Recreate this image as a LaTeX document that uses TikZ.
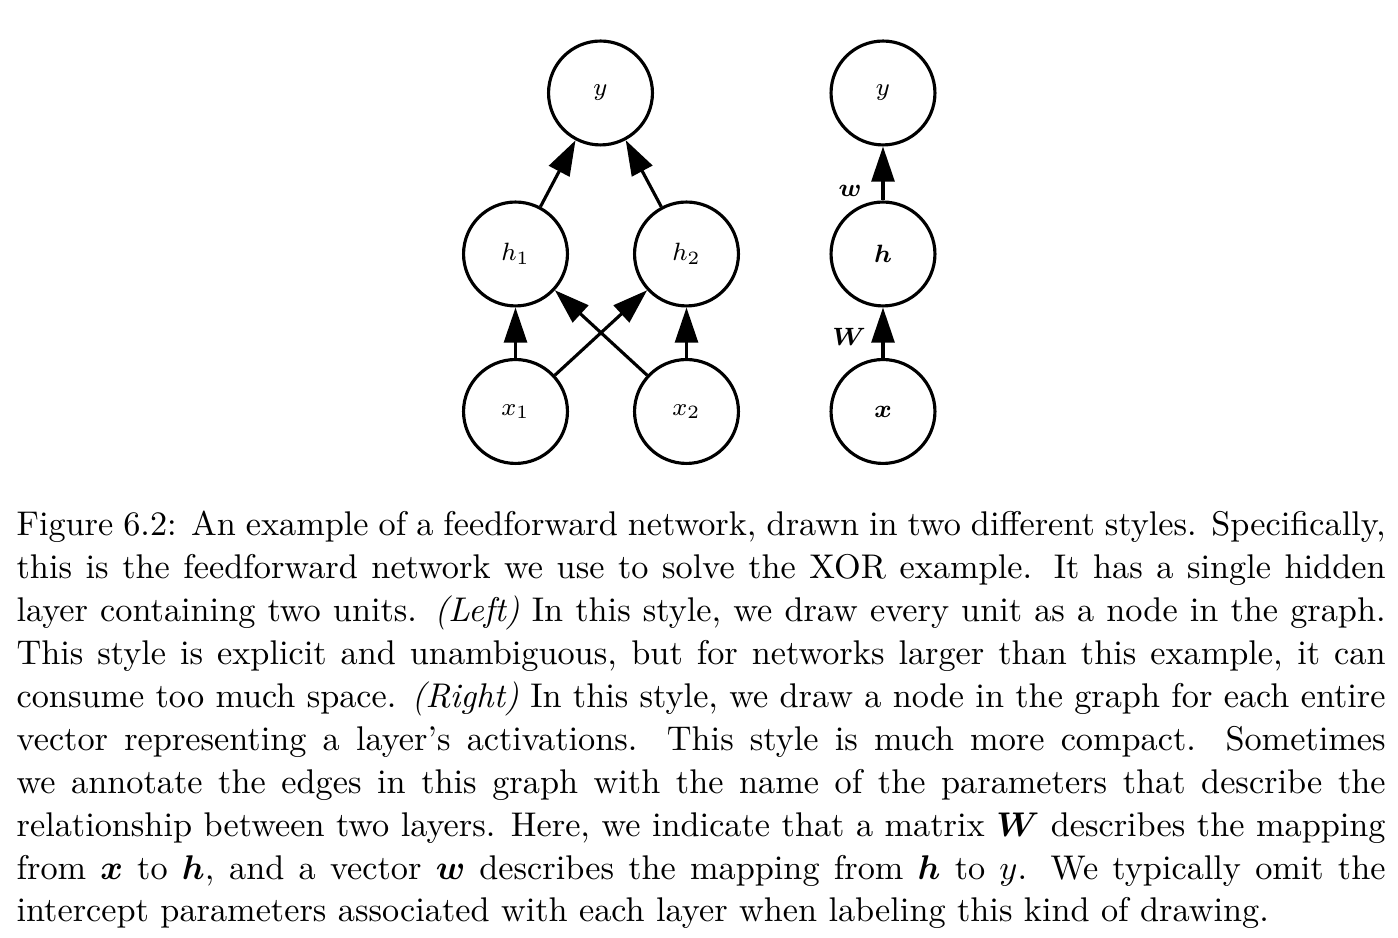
\documentclass[tikz,border=0pt]{standalone}
\usepackage{bm}
\usetikzlibrary{arrows.meta}
\tikzset{
  unit/.style={circle, draw=black, line width=1pt, minimum size=33.2pt, inner sep=0pt,
    font=\fontsize{8.3}{9.5}\selectfont},
  conn/.style={line width=1pt, -{Triangle[length=11.2pt,width=7.3pt]}},
  elabel/.style={inner sep=0pt, font=\fontsize{8.3}{9.5}\selectfont}
}
\begin{document}
\begin{tikzpicture}[x=0.3195pt,y=-0.3195pt]
\useasboundingbox (0,0) rectangle (1398,938);
% left network
\node[unit] (y)  at (600.5,93)  {$y$};
\node[unit] (h1) at (515.5,254) {$h_1$};
\node[unit] (h2) at (686.5,254) {$h_2$};
\node[unit] (x1) at (515.5,411.5) {$x_1$};
\node[unit] (x2) at (686.5,411.5) {$x_2$};
\draw[conn] (h1) -- (y);
\draw[conn] (h2) -- (y);
\draw[conn] (x1) -- (h1);
\draw[conn] (x2) -- (h2);
\draw[conn] (x1) -- (h2);
\draw[conn] (x2) -- (h1);
% right network
\node[unit] (ry) at (883,93)  {$y$};
\node[unit] (rh) at (883,254) {$\bm{h}$};
\node[unit] (rx) at (883,411.5) {$\bm{x}$};
\draw[conn] (rh) -- (ry);
\draw[conn] (rx) -- (rh);
\node[elabel] (lw) at (850,191) {$\bm{w}$};
\node[elabel] (lW) at (849,337) {$\bm{W}$};
% caption
\node[anchor=base west, inner sep=0pt] (cap) at (16,536) {\parbox[t]{437.4pt}{\fontsize{10.95}{13.7}\selectfont
Figure 6.2: An example of a feedforward network, drawn in two different styles. Specifically,\linebreak
this is the feedforward network we use to solve the XOR example. It has a single hidden\linebreak
layer containing two units. \textit{(Left)} In this style, we draw every unit as a node in the graph.\linebreak
This style is explicit and unambiguous, but for networks larger than this example, it can\linebreak
consume too much space. \textit{(Right)} In this style, we draw a node in the graph for each entire\linebreak
vector representing a layer's activations. This style is much more compact. Sometimes\linebreak
we annotate the edges in this graph with the name of the parameters that describe the\linebreak
relationship between two layers. Here, we indicate that a matrix $\bm{W}$ describes the mapping\linebreak
from $\bm{x}$ to $\bm{h}$, and a vector $\bm{w}$ describes the mapping from $\bm{h}$ to $y$. We typically omit the\linebreak
intercept parameters associated with each layer when labeling this kind of drawing.}};
\end{tikzpicture}
\end{document}
